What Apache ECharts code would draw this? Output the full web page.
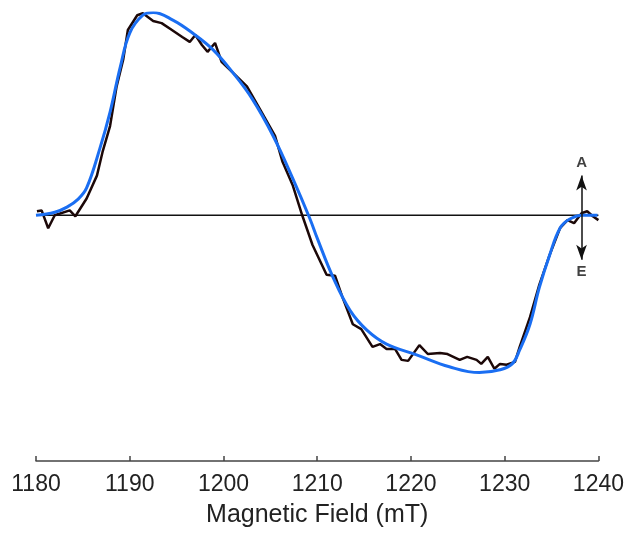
<!DOCTYPE html>
<html>
<head>
<meta charset="utf-8">
<script src="https://cdn.jsdelivr.net/npm/echarts@6/dist/echarts.min.js"></script>
<style>
  html, body { margin: 0; padding: 0; background: #fff; }
  #chart { width: 627px; height: 533px; }
</style>
</head>
<body>
<div id="chart"></div>
<script>
// field axis ticks (mT)
var fieldTicks = [1180, 1190, 1200, 1210, 1220, 1230, 1240];

// experimental trace
var expField = [1180.1, 1180.6, 1181.3, 1182.0, 1183.6, 1184.2, 1185.4, 1186.5, 1187.1, 1187.9,
  1188.6, 1189.3, 1189.8, 1190.8, 1191.4, 1192.5, 1193.4, 1194.5, 1195.6, 1196.4,
  1197.0, 1197.7, 1198.3, 1199.1, 1199.8, 1201.0, 1202.5, 1203.9, 1205.5, 1206.3,
  1207.4, 1208.4, 1209.5, 1211.0, 1211.9, 1212.7, 1213.8, 1214.7, 1215.9, 1216.7,
  1217.4, 1218.3, 1219.0, 1219.7, 1220.9, 1221.8, 1223.1, 1223.9, 1225.2, 1226.0,
  1227.0, 1227.5, 1228.2, 1228.9, 1229.5, 1230.2, 1231.1, 1231.6, 1232.7, 1233.7,
  1234.8, 1235.9, 1236.7, 1237.4, 1238.2, 1238.8, 1239.4, 1240.0];
var expSignal = [0.020, 0.024, -0.064, 0.000, 0.024, -0.005, 0.083, 0.196, 0.313, 0.441,
  0.637, 0.769, 0.916, 0.989, 0.999, 0.960, 0.950, 0.916, 0.881, 0.857,
  0.891, 0.842, 0.808, 0.852, 0.759, 0.705, 0.637, 0.524, 0.392, 0.264,
  0.147, 0.000, -0.147, -0.294, -0.299, -0.406, -0.539, -0.563, -0.651, -0.637,
  -0.661, -0.661, -0.715, -0.720, -0.642, -0.686, -0.681, -0.686, -0.715, -0.700,
  -0.715, -0.735, -0.700, -0.759, -0.735, -0.739, -0.725, -0.651, -0.504, -0.343,
  -0.196, -0.064, -0.024, -0.039, 0.010, 0.020, -0.005, -0.024];

// simulated fit
var fitField = [1180.0, 1182.0, 1183.3, 1184.5, 1185.4, 1186.8, 1187.9, 1189.0, 1190.0, 1191.4, 1192.5, 1194.6,
  1196.7, 1198.9, 1201.0, 1203.1, 1205.3, 1207.4, 1209.2, 1210.0, 1211.7, 1213.5,
  1215.3, 1217.4, 1220.6, 1224.1, 1227.3, 1229.5, 1230.8, 1231.6, 1232.7, 1233.7,
  1234.8, 1235.9, 1236.9, 1238.3, 1239.9];
var fitSignal = [0.000, 0.015, 0.040, 0.080, 0.135, 0.328, 0.510, 0.735, 0.901, 0.989, 1.002, 0.965,
  0.901, 0.818, 0.705, 0.573, 0.392, 0.181, -0.015, -0.113, -0.308, -0.470,
  -0.568, -0.637, -0.690, -0.749, -0.778, -0.764, -0.735, -0.666, -0.539, -0.357,
  -0.196, -0.064, -0.020, 0.000, 0.000];

// absorption / emission marker
var arrowField = 1238.2;
var arrowTop = 0.196;
var arrowBottom = -0.22;

function pairs(xs, ys) {
  return xs.map(function (x, i) { return [x, ys[i]]; });
}

var chart = echarts.init(document.getElementById('chart'));
var option = {
  animation: false,
  grid: { left: 36, right: 28, top: 13, bottom: 68 },
  xAxis: {
    type: 'value',
    min: fieldTicks[0],
    max: fieldTicks[fieldTicks.length - 1],
    interval: 10,
    name: 'Magnetic Field (mT)',
    nameLocation: 'middle',
    nameGap: 42,
    nameTextStyle: { fontFamily: 'Arial', fontSize: 25, color: '#222' },
    axisLine: { onZero: false, lineStyle: { color: '#444', width: 1.5 } },
    axisTick: { inside: true, length: 5, lineStyle: { color: '#444', width: 1.5 } },
    axisLabel: {
      margin: 12, fontFamily: 'Arial', fontSize: 23, color: '#222',
      formatter: function (v) { return String(v); }
    },
    splitLine: { show: false }
  },
  yAxis: {
    type: 'value',
    min: -1.215,
    max: 1.0,
    show: false
  },
  series: [
    {
      name: 'baseline',
      type: 'line',
      data: [[1180, 0], [1240, 0]],
      symbol: 'none',
      lineStyle: { color: '#111', width: 1.3 },
      z: 1
    },
    {
      name: 'experiment',
      type: 'line',
      data: pairs(expField, expSignal),
      symbol: 'none',
      lineStyle: { color: '#1c0808', width: 2.5 },
      z: 2
    },
    {
      name: 'fit',
      type: 'line',
      data: pairs(fitField, fitSignal),
      symbol: 'none',
      smooth: 0.4,
      lineStyle: { color: '#1a6ef2', width: 3 },
      z: 3
    },
    {
      name: 'marker',
      type: 'line',
      data: [],
      markLine: {
        silent: true,
        symbol: ['arrow', 'arrow'],
        symbolSize: [8, 15],
        label: { show: false },
        lineStyle: { color: '#111', width: 1.5, type: 'solid' },
        data: [[{ coord: [arrowField, arrowBottom] }, { coord: [arrowField, arrowTop] }]]
      },
      z: 4
    },
    {
      name: 'labels',
      type: 'scatter',
      symbolSize: 0,
      data: [
        { value: [arrowField, arrowTop], label: { formatter: 'A', position: 'top', distance: 5 } },
        { value: [arrowField, arrowBottom], label: { formatter: 'E', position: 'bottom', distance: 5 } }
      ],
      label: { show: true, fontFamily: 'Arial', fontSize: 15, fontWeight: 'bold', color: '#111' },
      z: 5
    }
  ]
};
chart.setOption(option);
</script>
</body>
</html>
